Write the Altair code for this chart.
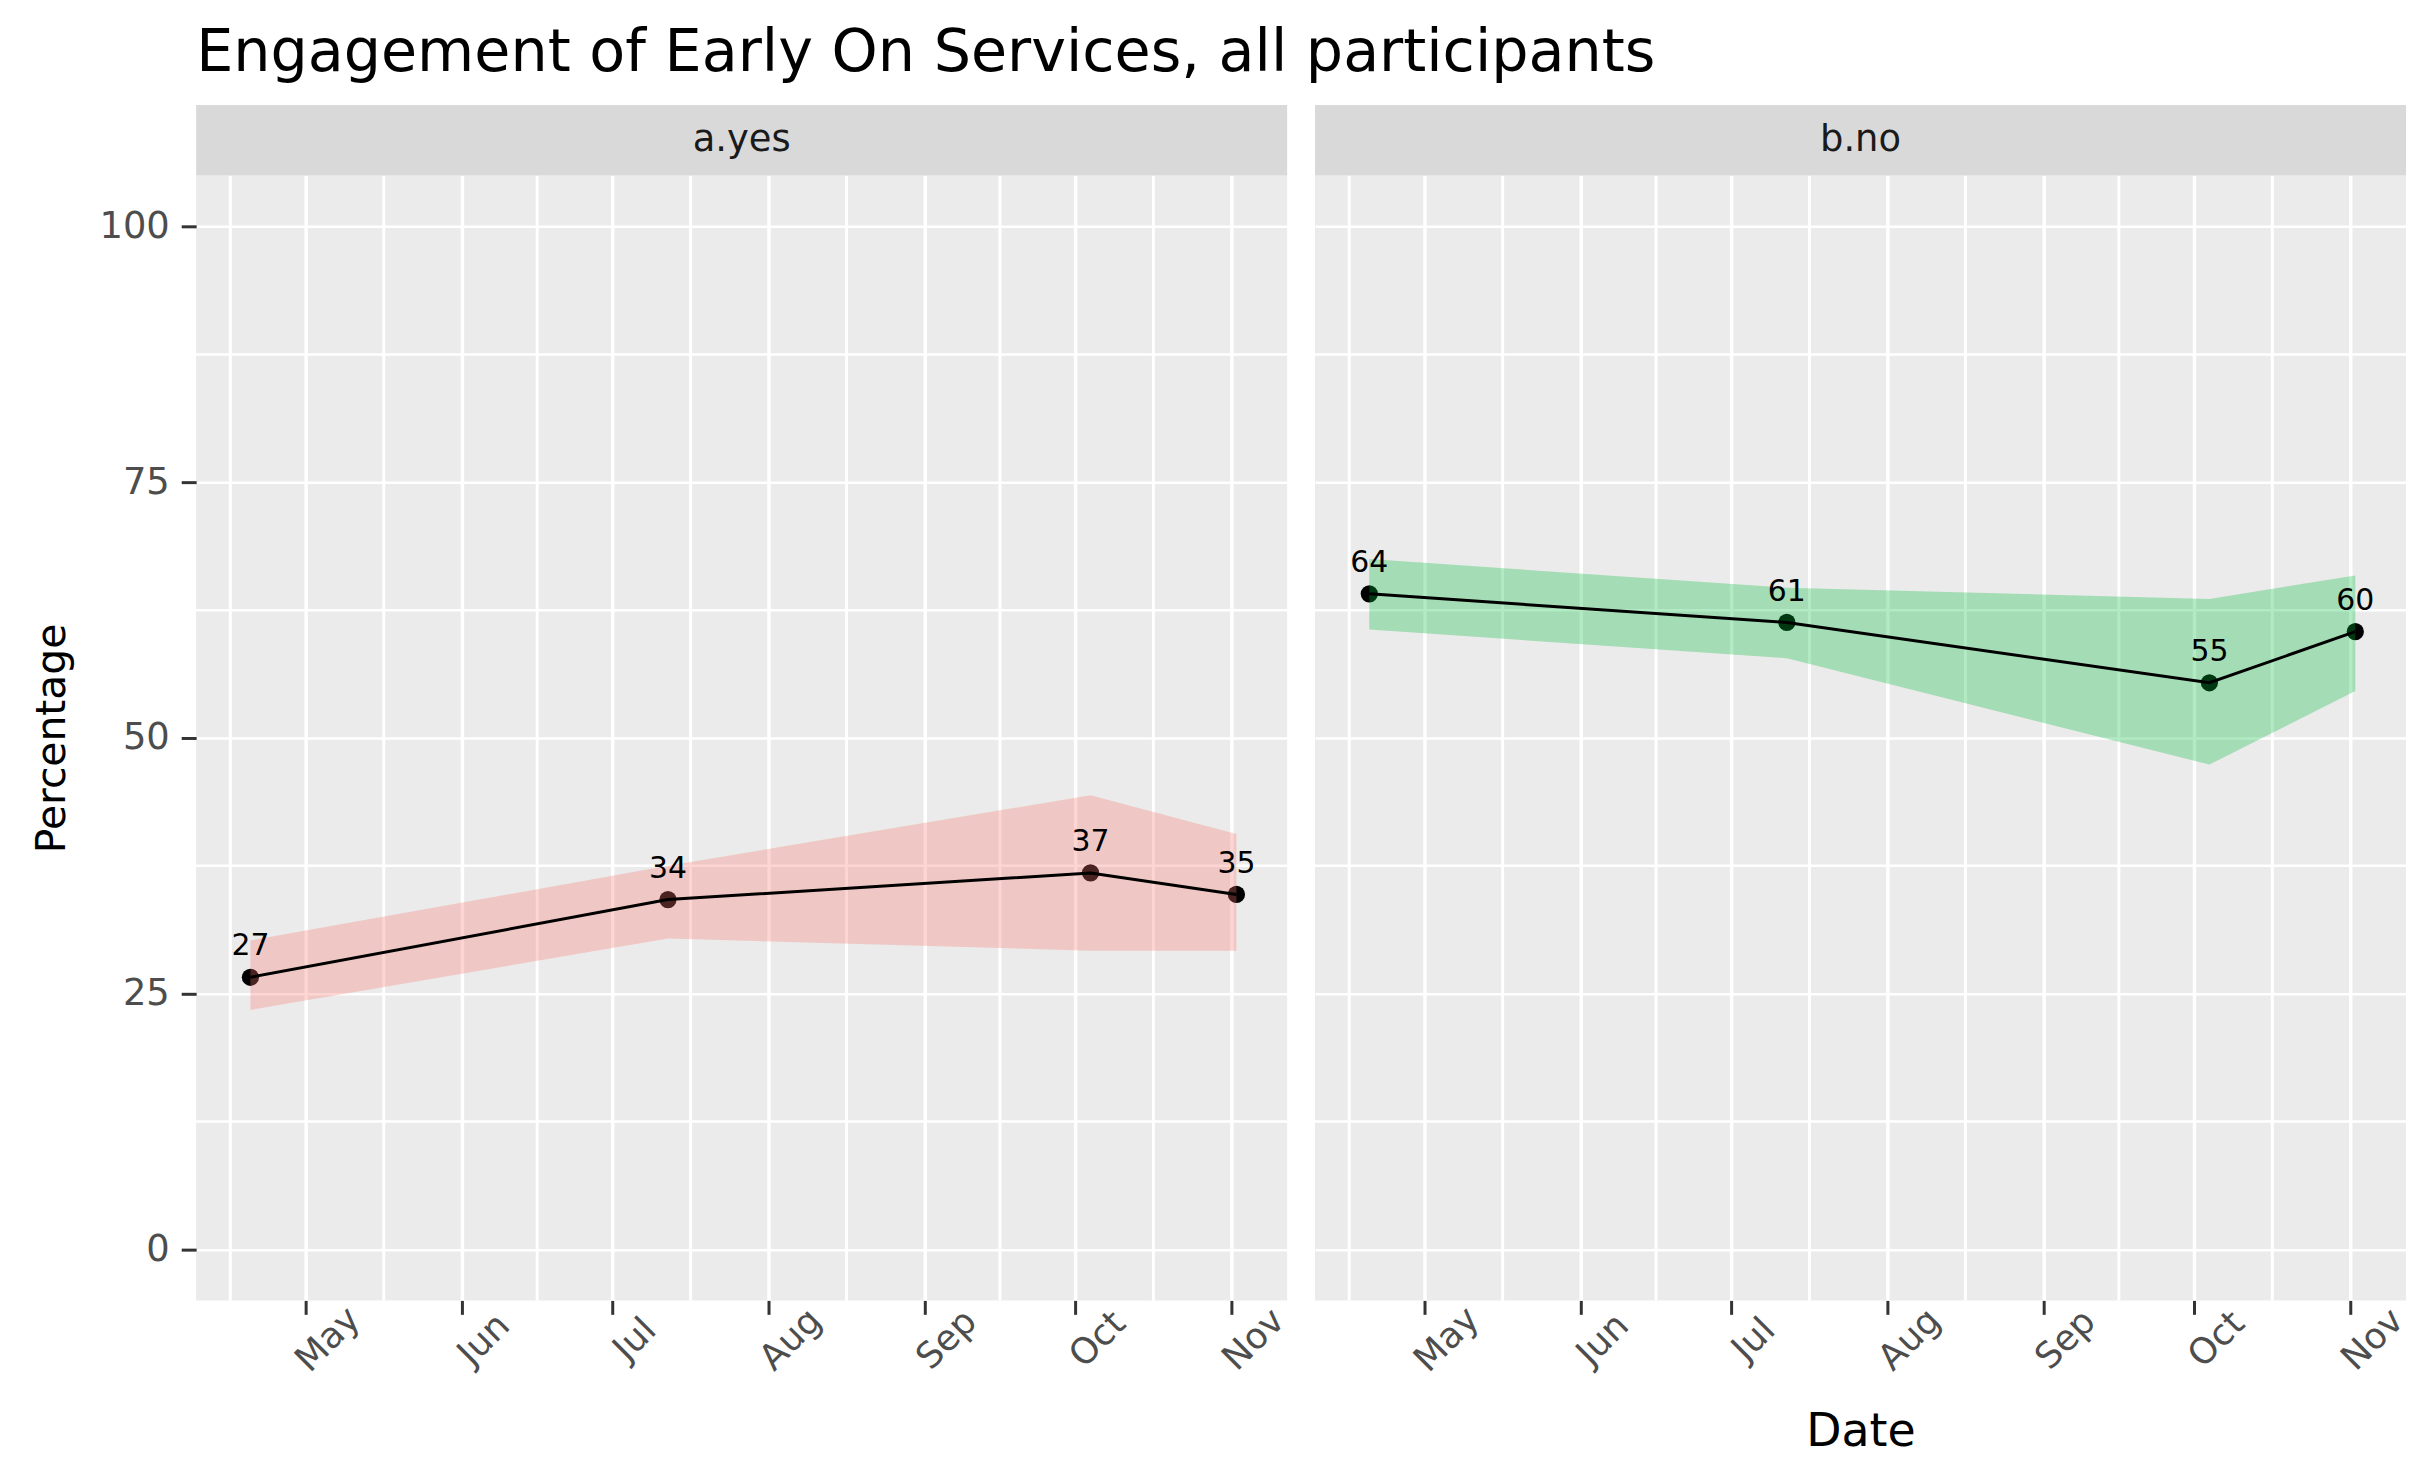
import altair as alt
import pandas as pd

title_text = "Engagement of Early On Services, all participants"
strip_labels = ["a.yes", "b.no"]
dates = ["2021-04-20", "2021-07-12", "2021-10-04", "2021-11-02"]
yes_pct = [26.6, 34.2, 36.8, 34.7]
yes_lo = [23.4, 30.4, 29.2, 29.2]
yes_hi = [30.2, 37.5, 44.4, 40.6]
no_pct = [64.1, 61.3, 55.4, 60.4]
no_lo = [60.6, 57.8, 47.4, 54.6]
no_hi = [67.5, 64.7, 63.6, 65.9]
ribbon_colors = ["#F8766D", "#00BA38"]
month_ticks = ["2021-05-01", "2021-06-01", "2021-07-01", "2021-08-01",
               "2021-09-01", "2021-10-01", "2021-11-01"]
minor_x = ["2021-04-16T00:00:00Z", "2021-05-16T12:00:00Z", "2021-06-16T00:00:00Z",
           "2021-07-16T12:00:00Z", "2021-08-16T12:00:00Z", "2021-09-16T00:00:00Z",
           "2021-10-16T12:00:00Z"]
x_domain = ["2021-04-09T05:00:00Z", "2021-11-12T02:00:00Z"]
y_major = [0, 25, 50, 75, 100]
y_minor = [12.5, 37.5, 62.5, 87.5]

W = 1096
H = 1130
SH = 71


def dt(s):
    t = pd.Timestamp(s)
    return alt.DateTime(year=t.year, month=t.month, date=t.day,
                        hours=t.hour, minutes=t.minute, utc=True)


def panel(i, pct, lo, hi):
    df = pd.DataFrame({"date": dates, "pct": pct, "lo": lo, "hi": hi})
    xscale = alt.Scale(type="utc", domain=[dt(s) for s in x_domain])
    yscale = alt.Scale(domain=[-5, 105], nice=False, zero=False)
    xaxis_kw = dict(values=[dt(s) for s in month_ticks],
                    labelExpr="utcFormat(datum.value, '%b')",
                    labelAngle=-45, labelAlign="center", labelBaseline="middle",
                    labelOffset=22, labelPadding=25, labelFontSize=36,
                    labelColor="#4D4D4D", labelOverlap=False, labelFlush=False,
                    tickSize=14, tickWidth=3, tickColor="#333333", domain=False,
                    grid=True, gridColor="white", gridWidth=3.5)
    if i == 1:
        xaxis = alt.Axis(title="Date", titleFontSize=46, titleFontWeight="normal",
                         titleColor="black", titleY=146, titleBaseline="alphabetic",
                         **xaxis_kw)
    else:
        xaxis = alt.Axis(title=None, **xaxis_kw)
    if i == 0:
        yaxis = alt.Axis(values=y_major, labelFontSize=37, labelColor="#4D4D4D",
                         labelPadding=12, tickSize=15, tickWidth=3, tickColor="#333333",
                         domain=False, grid=True, gridColor="white", gridWidth=2.5,
                         title="Percentage", titleFontSize=41, titleFontWeight="normal",
                         titleColor="black", titleX=-132, titleBaseline="alphabetic")
    else:
        yaxis = alt.Axis(values=y_major, labels=False, ticks=False, domain=False,
                         title=None, grid=True, gridColor="white", gridWidth=2.5)

    X = lambda f: alt.X(f, type="temporal", scale=xscale, axis=xaxis)
    Y = lambda f: alt.Y(f, type="quantitative", scale=yscale, axis=yaxis)

    vmin = alt.Chart(pd.DataFrame({"date": minor_x})).mark_rule(
        color="white", strokeWidth=3).encode(x=X("date"))
    hmin = alt.Chart(pd.DataFrame({"pct": y_minor})).mark_rule(
        color="white", strokeWidth=2.5).encode(y=Y("pct"))
    base = alt.Chart(df)
    pts = base.mark_circle(size=300, color="black", opacity=1).encode(x=X("date"), y=Y("pct"))
    rib = base.mark_area(color=ribbon_colors[i], opacity=0.3).encode(
        x=X("date"), y=Y("lo"), y2="hi")
    line = base.mark_line(color="black", strokeWidth=3).encode(x=X("date"), y=Y("pct"))
    txt = base.mark_text(dy=-22, baseline="alphabetic", fontSize=30, color="black").encode(
        x=X("date"), y=Y("pct"), text=alt.Text("pct:Q", format=".0f"))

    sdf = pd.DataFrame({"label": [strip_labels[i]]})
    strip_bg = alt.Chart(sdf).mark_rect(color="#D9D9D9").encode(
        x=alt.value(0), x2=alt.value(W), y=alt.value(-SH), y2=alt.value(0))
    strip_tx = alt.Chart(sdf).mark_text(fontSize=37, color="#1A1A1A", baseline="middle").encode(
        text="label:N", x=alt.value(W / 2), y=alt.value(-SH / 2))

    return alt.layer(vmin, hmin, pts, rib, line, txt, strip_bg, strip_tx).properties(
        width=W, height=H)


p1 = panel(0, yes_pct, yes_lo, yes_hi)
p2 = panel(1, no_pct, no_lo, no_hi)

chart = alt.hconcat(p1, p2, spacing=28, bounds="flush").properties(
    title=alt.TitleParams(text=title_text, anchor="start", fontSize=59,
                          fontWeight="normal", color="black", font="DejaVu Sans",
                          dx=165, offset=-25, baseline="alphabetic"),
    padding={"left": 24, "top": 13, "right": 0, "bottom": 0},
).configure(font="DejaVu Sans").configure_view(fill="#EBEBEB", stroke=None)

chart.save("out.html", embed_options={"renderer": "svg", "actions": False})
